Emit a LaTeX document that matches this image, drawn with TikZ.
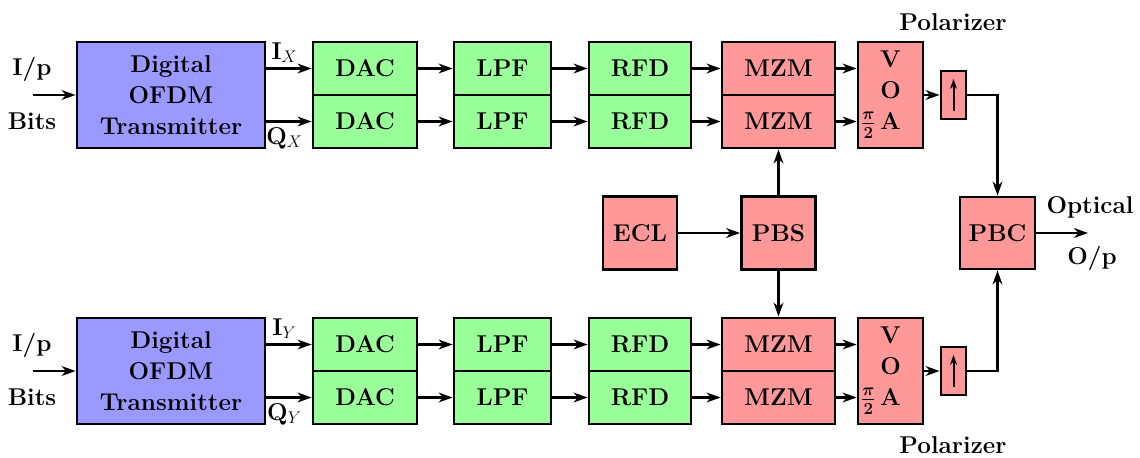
\documentclass[tikz,border=0pt]{standalone}
\usetikzlibrary{arrows.meta,calc}

\begin{document}
\begin{tikzpicture}[
    blk/.style={rectangle, draw, line width=2pt, font=\LARGE\bfseries, inner sep=0pt},
    dsp/.style={blk, fill=blue!40, minimum width=4.7cm, minimum height=2.65cm, align=center},
    elec/.style={blk, fill=green!40, minimum height=1.325cm},
    optc/.style={blk, fill=red!40},
    arrow/.style={-{Stealth[length=10pt,width=7pt]}, line width=1.6pt},
    lbl/.style={font=\LARGE\bfseries}
  ]
    \useasboundingbox (0,0) rectangle (28.5,11.425);

    % X polarization branch
    \node[dsp]                                   (tx1)   at (4.275,9.05)    {Digital\\OFDM\\Transmitter};
    \node[elec, minimum width=2.6cm]             (dac1a) at (9.125,9.7125)  {DAC};
    \node[elec, minimum width=2.6cm]             (dac1b) at (9.125,8.3875)  {DAC};
    \node[elec, minimum width=2.425cm]           (lpf1a) at (12.5625,9.7125) {LPF};
    \node[elec, minimum width=2.425cm]           (lpf1b) at (12.5625,8.3875) {LPF};
    \node[elec, minimum width=2.55cm]            (rfd1a) at (16,9.7125)     {RFD};
    \node[elec, minimum width=2.55cm]            (rfd1b) at (16,8.3875)     {RFD};
    \node[optc, minimum width=2.825cm, minimum height=1.325cm] (mzm1a) at (19.4625,9.7125) {MZM};
    \node[optc, minimum width=2.825cm, minimum height=1.325cm] (mzm1b) at (19.4625,8.3875) {MZM};
    \node[optc, minimum width=1.625cm, minimum height=2.65cm, align=center] (voa1) at (22.2625,9.05) {V\\O\\\llap{\boldmath$\frac{\pi}{2}$\,}A};
    \node[optc, minimum width=0.625cm, minimum height=1.2cm]   (pol1)  at (23.8375,9.05) {};
    \node[lbl]                                   (poltxt1) at (23.825,10.875) {Polarizer};

    % Y polarization branch
    \node[dsp]                                   (tx2)   at (4.275,2.15)    {Digital\\OFDM\\Transmitter};
    \node[elec, minimum width=2.6cm]             (dac2a) at (9.125,2.8125)  {DAC};
    \node[elec, minimum width=2.6cm]             (dac2b) at (9.125,1.4875)  {DAC};
    \node[elec, minimum width=2.425cm]           (lpf2a) at (12.5625,2.8125) {LPF};
    \node[elec, minimum width=2.425cm]           (lpf2b) at (12.5625,1.4875) {LPF};
    \node[elec, minimum width=2.55cm]            (rfd2a) at (16,2.8125)     {RFD};
    \node[elec, minimum width=2.55cm]            (rfd2b) at (16,1.4875)     {RFD};
    \node[optc, minimum width=2.825cm, minimum height=1.325cm] (mzm2a) at (19.4625,2.8125) {MZM};
    \node[optc, minimum width=2.825cm, minimum height=1.325cm] (mzm2b) at (19.4625,1.4875) {MZM};
    \node[optc, minimum width=1.625cm, minimum height=2.65cm, align=center] (voa2) at (22.2625,2.15) {V\\O\\\llap{\boldmath$\frac{\pi}{2}$\,}A};
    \node[optc, minimum width=0.625cm, minimum height=1.2cm]   (pol2)  at (23.8375,2.15) {};
    \node[lbl]                                   (poltxt2) at (23.825,0.3)  {Polarizer};

    % laser, splitter and combiner
    \node[optc, minimum width=1.85cm, minimum height=1.825cm]  (ecl) at (16,5.6)      {ECL};
    \node[optc, minimum width=1.85cm, minimum height=1.825cm]  (pbs) at (19.4625,5.6) {PBS};
    \node[optc, minimum width=1.875cm, minimum height=1.8cm]   (pbc) at (24.9375,5.6) {PBC};

    % inputs and output
    \coordinate (in1) at (0.825,9.05);
    \coordinate (in2) at (0.825,2.15);
    \coordinate (out) at (27.2,5.6);
    \node[lbl] (ip1)   at (0.8,9.7)  {I/p};
    \node[lbl] (bits1) at (0.8,8.4)  {Bits};
    \node[lbl] (ip2)   at (0.8,2.8)  {I/p};
    \node[lbl] (bits2) at (0.8,1.5)  {Bits};
    \node[lbl] (optl)  at (27.25,6.25)  {Optical};
    \node[lbl] (opl)   at (27.3,4.975)  {O/p};

    \draw[arrow] (in1) -- (tx1);
    \draw[arrow] (in2) -- (tx2);
    \draw[arrow] (tx1.east |- dac1a) -- node[lbl, above, pos=0.4] {I$_X$} (dac1a);
    \draw[arrow] (tx1.east |- dac1b) -- node[lbl, below, pos=0.4] {Q$_X$} (dac1b);
    \draw[arrow] (tx2.east |- dac2a) -- node[lbl, above, pos=0.4] {I$_Y$} (dac2a);
    \draw[arrow] (tx2.east |- dac2b) -- node[lbl, below, pos=0.4] {Q$_Y$} (dac2b);

    \draw[arrow] (dac1a) -- (lpf1a);
    \draw[arrow] (dac1b) -- (lpf1b);
    \draw[arrow] (lpf1a) -- (rfd1a);
    \draw[arrow] (lpf1b) -- (rfd1b);
    \draw[arrow] (rfd1a) -- (mzm1a);
    \draw[arrow] (rfd1b) -- (mzm1b);
    \draw[arrow] (mzm1a) -- (voa1.west |- mzm1a);
    \draw[arrow] (mzm1b) -- (voa1.west |- mzm1b);
    \draw[arrow] (voa1) -- (pol1);

    \draw[arrow] (dac2a) -- (lpf2a);
    \draw[arrow] (dac2b) -- (lpf2b);
    \draw[arrow] (lpf2a) -- (rfd2a);
    \draw[arrow] (lpf2b) -- (rfd2b);
    \draw[arrow] (rfd2a) -- (mzm2a);
    \draw[arrow] (rfd2b) -- (mzm2b);
    \draw[arrow] (mzm2a) -- (voa2.west |- mzm2a);
    \draw[arrow] (mzm2b) -- (voa2.west |- mzm2b);
    \draw[arrow] (voa2) -- (pol2);

    \draw[arrow] (ecl) -- (pbs);
    \draw[arrow] (pbs) -- (mzm1b);
    \draw[arrow] (pbs) -- (mzm2a);
    \draw[arrow] (pol1.east) -| (pbc.north);
    \draw[arrow] (pol2.east) -| (pbc.south);
    \draw[arrow] (pbc) -- (out);

    % polarizer axis
    \draw[-{Stealth[length=7pt,width=5pt]}, line width=1.4pt] ($(pol1)+(0,-0.4)$) -- ($(pol1)+(0,0.4)$);
    \draw[-{Stealth[length=7pt,width=5pt]}, line width=1.4pt] ($(pol2)+(0,-0.4)$) -- ($(pol2)+(0,0.4)$);
  \end{tikzpicture}
\end{document}
